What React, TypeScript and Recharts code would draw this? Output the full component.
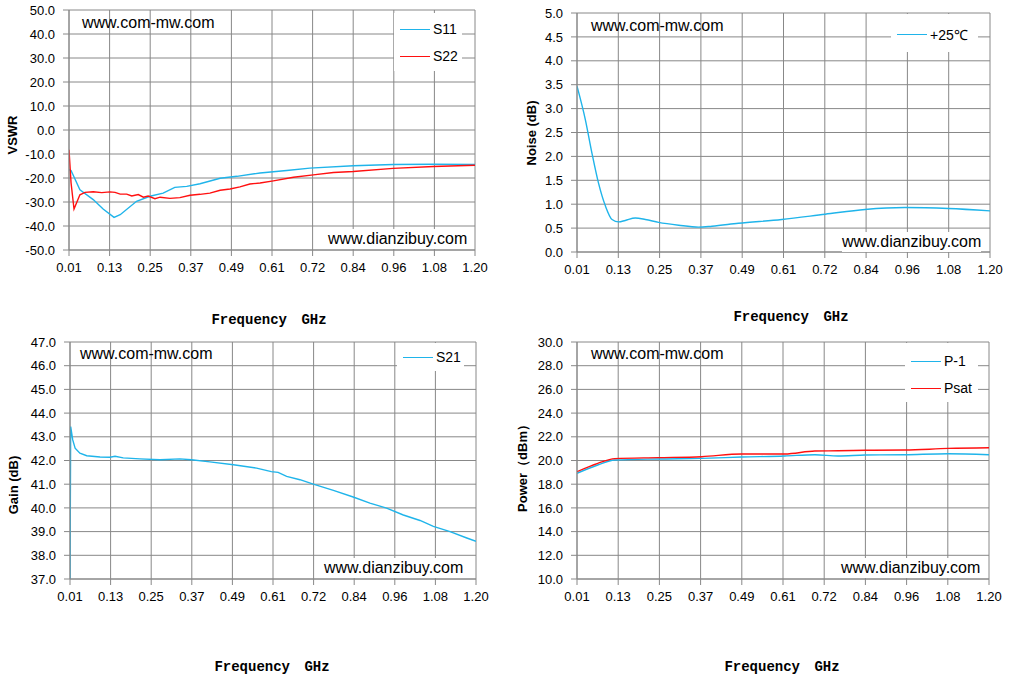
import { LineChart, Line, XAxis, YAxis, CartesianGrid, Label } from 'recharts'

const BLUE = '#1fb4ea'
const RED = '#ff1010'
const GRID = '#888888'

// shared frequency axis (GHz)
const freqTickLabels = ['0.01', '0.13', '0.25', '0.37', '0.49', '0.61', '0.72', '0.84', '0.96', '1.08', '1.20']

// VSWR panel
const s11Freq = [0.01, 0.016, 0.042, 0.081, 0.11, 0.142, 0.16, 0.208, 0.247, 0.286, 0.32, 0.355, 0.394, 0.453, 0.502, 0.57, 0.648, 0.716, 0.843, 0.96, 1.078, 1.2]
const s11Db = [-16.5, -16.9, -24.9, -29.0, -32.9, -36.4, -35.3, -29.7, -27.6, -26.3, -23.9, -23.5, -22.4, -20.1, -19.3, -17.9, -16.9, -15.9, -14.9, -14.4, -14.3, -14.4]
const s22Freq = [0.01, 0.016, 0.0247, 0.032, 0.042, 0.057, 0.081, 0.106, 0.13, 0.145, 0.16, 0.179, 0.194, 0.213, 0.228, 0.242, 0.262, 0.277, 0.306, 0.335, 0.365, 0.394, 0.423, 0.453, 0.482, 0.511, 0.54, 0.57, 0.609, 0.668, 0.726, 0.785, 0.843, 0.96, 1.078, 1.2]
const s22Db = [-8.2, -22.0, -32.9, -30.4, -27.0, -26.0, -25.7, -26.1, -25.8, -26.0, -26.7, -26.7, -27.5, -26.9, -28.0, -27.5, -28.6, -28.0, -28.5, -28.2, -27.2, -26.8, -26.3, -25.1, -24.6, -23.7, -22.5, -22.1, -21.2, -19.7, -18.7, -17.7, -17.3, -16.0, -15.2, -14.7]

// noise figure panel
const nfFreq = [0.01, 0.034, 0.053, 0.072, 0.092, 0.111, 0.13, 0.149, 0.178, 0.207, 0.245, 0.303, 0.36, 0.399, 0.475, 0.6, 0.725, 0.84, 0.955, 1.08, 1.2]
const nfDb = [3.47, 2.77, 2.07, 1.44, 0.96, 0.68, 0.63, 0.66, 0.71, 0.68, 0.62, 0.56, 0.52, 0.54, 0.6, 0.68, 0.79, 0.89, 0.93, 0.91, 0.86]

// gain panel
const s21Freq = [0.01, 0.012, 0.018, 0.025, 0.039, 0.059, 0.098, 0.127, 0.142, 0.166, 0.215, 0.274, 0.332, 0.366, 0.42, 0.489, 0.557, 0.6, 0.62, 0.645, 0.684, 0.723, 0.782, 0.84, 0.889, 0.938, 0.987, 1.036, 1.075, 1.124, 1.173, 1.2]
const s21Db = [37.0, 43.43, 42.87, 42.52, 42.31, 42.2, 42.15, 42.14, 42.18, 42.11, 42.07, 42.03, 42.07, 42.03, 41.94, 41.82, 41.68, 41.53, 41.5, 41.33, 41.19, 41.0, 40.74, 40.46, 40.2, 39.99, 39.7, 39.47, 39.22, 39.0, 38.73, 38.59]

// output power panel
const pwrFreq = [0.01, 0.07, 0.119, 0.244, 0.37, 0.485, 0.61, 0.697, 0.764, 0.842, 0.957, 1.082, 1.2]
const p1dB = [18.92, 19.62, 20.04, 20.13, 20.18, 20.29, 20.38, 20.49, 20.38, 20.46, 20.49, 20.57, 20.49]
const psatDbm = [19.06, 19.76, 20.16, 20.24, 20.32, 20.55, 20.55, 20.8, 20.82, 20.86, 20.88, 21.02, 21.08]

const freqTicks = freqTickLabels.map((_, i) => 0.01 + i * 0.119)

const toPoints = (xs: number[], ys: number[]) => xs.map((f, i) => ({ f, v: ys[i] }))

interface Series {
  name: string
  color: string
  points: { f: number; v: number }[]
  curve: 'linear' | 'monotone'
}

interface PanelProps {
  left: number
  top: number
  width: number
  height: number
  margin: { top: number; right: number; left: number; bottom: number }
  yWidth: number
  xHeight: number
  yDomain: [number, number]
  yStep: number
  yTitle: string
  yTitlePos: [number, number]
  xTitlePos: [number, number]
  series: Series[]
  legendBox: { x: number; y: number; w: number; h: number; rows: number[] }
  marks: { top: [number, number]; bottom: [number, number] }
}

const tickStyle = { fontFamily: '"Liberation Sans", Arial, sans-serif', fontSize: 13, fill: '#000' }

function Panel(p: PanelProps) {
  const yTicks: number[] = []
  for (let v = p.yDomain[0]; v <= p.yDomain[1] + 1e-9; v += p.yStep) yTicks.push(Math.round(v * 100) / 100)

  return (
    <div style={{ position: 'absolute', left: p.left, top: p.top, width: p.width, height: p.height }}>
      <LineChart width={p.width} height={p.height} margin={p.margin}>
        <CartesianGrid stroke={GRID} strokeWidth={1} />
        <XAxis
          type="number"
          dataKey="f"
          domain={[0.01, 1.2]}
          ticks={freqTicks}
          interval={0}
          tickFormatter={(_v: number, i: number) => freqTickLabels[i]}
          tick={tickStyle}
          tickSize={6}
          tickMargin={7}
          stroke={GRID}
          height={p.xHeight}
          allowDataOverflow
        >
          <Label
            content={() => (
              <text
                x={p.xTitlePos[0]}
                y={p.xTitlePos[1]}
                textAnchor="middle"
                dominantBaseline="central"
                style={{ fontFamily: '"Liberation Mono", "DejaVu Sans Mono", monospace', fontWeight: 'bold', fontSize: 14, wordSpacing: 6 }}
              >
                Frequency GHz
              </text>
            )}
          />
        </XAxis>
        <YAxis
          type="number"
          domain={p.yDomain}
          ticks={yTicks}
          interval={0}
          tickFormatter={(v: number) => v.toFixed(1)}
          tick={tickStyle}
          tickSize={6}
          tickMargin={8}
          stroke={GRID}
          width={p.yWidth}
          allowDataOverflow
        >
          <Label
            content={() => (
              <text
                x={p.yTitlePos[0]}
                y={p.yTitlePos[1]}
                textAnchor="middle"
                dominantBaseline="central"
                transform={`rotate(-90 ${p.yTitlePos[0]} ${p.yTitlePos[1]})`}
                style={{ fontFamily: '"Liberation Sans", Arial, sans-serif', fontWeight: 'bold', fontSize: 13 }}
              >
                {p.yTitle}
              </text>
            )}
          />
        </YAxis>
        {p.series.map((s) => (
          <Line
            key={s.name}
            data={s.points}
            dataKey="v"
            name={s.name}
            type={s.curve}
            stroke={s.color}
            strokeWidth={1.4}
            dot={false}
            isAnimationActive={false}
          />
        ))}
      </LineChart>

      {/* legend box over the grid */}
      <div
        style={{
          position: 'absolute',
          left: p.legendBox.x,
          top: p.legendBox.y,
          width: p.legendBox.w,
          height: p.legendBox.h,
          background: '#fff',
        }}
      >
        {p.series.map((s, i) => (
          <div
            key={s.name}
            style={{
              position: 'absolute',
              left: 6,
              top: p.legendBox.rows[i] - p.legendBox.y - 9,
              height: 18,
              display: 'flex',
              alignItems: 'center',
              whiteSpace: 'nowrap',
              fontFamily: '"Liberation Sans", Arial, sans-serif',
              fontSize: 14,
            }}
          >
            <span style={{ display: 'inline-block', width: 30, height: 0, borderTop: `1.5px solid ${s.color}`, marginRight: 3 }} />
            {s.name}
          </div>
        ))}
      </div>

      <div style={{ position: 'absolute', left: p.marks.top[0], top: p.marks.top[1] - 10, height: 20, lineHeight: '20px', fontFamily: '"Liberation Sans", Arial, sans-serif', fontSize: 16, whiteSpace: 'nowrap' }}>
        www.com-mw.com
      </div>
      <div style={{ position: 'absolute', left: p.marks.bottom[0], top: p.marks.bottom[1] - 10, height: 20, lineHeight: '20px', background: '#fff', fontFamily: '"Liberation Sans", Arial, sans-serif', fontSize: 16, whiteSpace: 'nowrap' }}>
        www.dianzibuy.com
      </div>
    </div>
  )
}

export default function App() {
  return (
    <div style={{ position: 'absolute', left: 0, top: 0, width: 1009, height: 679, background: '#fff', overflow: 'hidden' }}>
      <Panel
        left={0}
        top={0}
        width={500}
        height={330}
        margin={{ top: 10, right: 25, left: 0, bottom: 0 }}
        yWidth={69}
        xHeight={80}
        yDomain={[-50, 50]}
        yStep={10}
        yTitle="VSWR"
        yTitlePos={[12, 135]}
        xTitlePos={[269, 320]}
        series={[
          { name: 'S11', color: BLUE, points: toPoints(s11Freq, s11Db), curve: 'linear' },
          { name: 'S22', color: RED, points: toPoints(s22Freq, s22Db), curve: 'linear' },
        ]}
        legendBox={{ x: 394, y: 13, w: 68, h: 58, rows: [29, 56] }}
        marks={{ top: [82, 23], bottom: [328, 239] }}
      />
      <Panel
        left={505}
        top={0}
        width={504}
        height={330}
        margin={{ top: 13, right: 19, left: 0, bottom: 0 }}
        yWidth={72}
        xHeight={78}
        yDomain={[0, 5]}
        yStep={0.5}
        yTitle="Noise (dB)"
        yTitlePos={[26, 133]}
        xTitlePos={[286, 317]}
        series={[{ name: '+25℃', color: BLUE, points: toPoints(nfFreq, nfDb), curve: 'monotone' }]}
        legendBox={{ x: 386, y: 14, w: 87, h: 38, rows: [34] }}
        marks={{ top: [86, 26], bottom: [337, 242] }}
      />
      <Panel
        left={0}
        top={330}
        width={500}
        height={349}
        margin={{ top: 12, right: 24, left: 0, bottom: 0 }}
        yWidth={70}
        xHeight={100}
        yDomain={[37, 47]}
        yStep={1}
        yTitle="Gain (dB)"
        yTitlePos={[13, 155]}
        xTitlePos={[272, 337]}
        series={[{ name: 'S21', color: BLUE, points: toPoints(s21Freq, s21Db), curve: 'linear' }]}
        legendBox={{ x: 397, y: 13, w: 67, h: 28, rows: [27] }}
        marks={{ top: [80, 24], bottom: [324, 238] }}
      />
      <Panel
        left={505}
        top={330}
        width={504}
        height={349}
        margin={{ top: 12, right: 20, left: 0, bottom: 0 }}
        yWidth={72}
        xHeight={100}
        yDomain={[10, 30]}
        yStep={2}
        yTitle="Power（dBm）"
        yTitlePos={[17, 135]}
        xTitlePos={[277, 337]}
        series={[
          { name: 'P-1', color: BLUE, points: toPoints(pwrFreq, p1dB), curve: 'monotone' },
          { name: 'Psat', color: RED, points: toPoints(pwrFreq, psatDbm), curve: 'monotone' },
        ]}
        legendBox={{ x: 400, y: 13, w: 73, h: 59, rows: [31, 58] }}
        marks={{ top: [86, 24], bottom: [336, 238] }}
      />
    </div>
  )
}
